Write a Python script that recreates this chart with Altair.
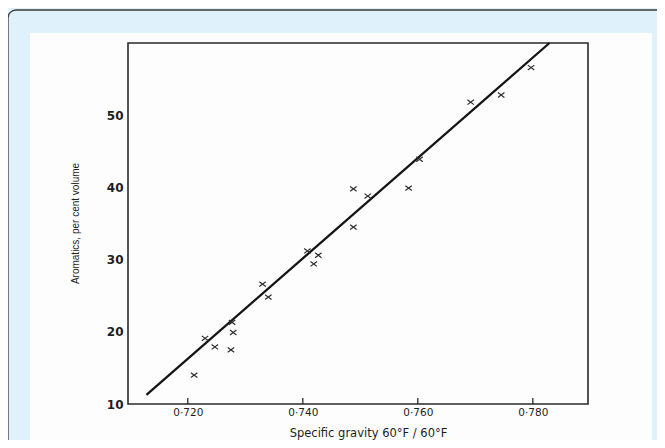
import altair as alt
import pandas as pd

# Observed data (specific gravity vs aromatics)
sg = [0.7211, 0.7230, 0.7247, 0.7275, 0.7279, 0.7277, 0.7330, 0.7340, 0.7408, 0.7427,
      0.7419, 0.7488, 0.7488, 0.7513, 0.7584, 0.7603, 0.7692, 0.7745, 0.7797]
arom = [14.0, 19.1, 17.9, 17.5, 19.9, 21.3, 26.6, 24.8, 31.2, 30.6,
        29.4, 34.5, 39.8, 38.8, 39.9, 43.9, 51.8, 52.8, 56.6]

# Fitted straight line (end points)
fit_x = [0.7128, 0.7829]
fit_y = [11.25, 60.0]

x_ticks = [0.72, 0.74, 0.76, 0.78]
y_ticks = [10, 20, 30, 40, 50]

x_domain = [0.7096, 0.7896]
y_domain = [10, 60]

W, H = 460, 361
INK = "#1e1e1e"

pts = pd.DataFrame({"sg": sg, "arom": arom})
fit = pd.DataFrame({"sg": fit_x, "arom": fit_y})
ticks = pd.DataFrame({"sg": x_ticks})

xscale = alt.Scale(domain=x_domain, nice=False, zero=False)
yscale = alt.Scale(domain=y_domain, nice=False, zero=False)

x_axis = alt.Axis(
    values=x_ticks, grid=False, domain=False, ticks=False, zindex=1,
    labelExpr="replace(format(datum.value, '.3f'), '.', '\u00b7')",
    labelFont="DejaVu Sans", labelFontSize=10.5, labelColor=INK, labelPadding=3,
    title="Specific  gravity  60\u00b0F / 60\u00b0F", titleFont="DejaVu Sans",
    titleFontSize=11.5, titleFontWeight="normal", titleColor=INK,
    titleX=240, titleY=29, titleAlign="center", titleBaseline="middle",
)
y_axis = alt.Axis(
    values=y_ticks, grid=False, domain=False, ticks=False, zindex=1,
    labelFont="DejaVu Sans", labelFontSize=12, labelFontWeight="bold",
    labelColor=INK, labelPadding=5,
    title="Aromatics, per cent volume", titleFont="Liberation Sans",
    titleFontSize=10, titleFontWeight="normal", titleColor=INK,
    titleAngle=-90, titleX=-53, titleY=180, titleAlign="center", titleBaseline="middle",
)

# decorative frame and white panel (page furniture)
frame_df = pd.DataFrame({"k": [0]})
border = alt.Chart(frame_df).mark_rect(
    fillOpacity=0, stroke="#3a3a3a", strokeWidth=1.3, cornerRadius=8
).encode(x=alt.value(-120), x2=alt.value(620), y=alt.value(-33), y2=alt.value(460))
panel = alt.Chart(frame_df).mark_rect(fill="#fdfdfd", strokeWidth=0).encode(
    x=alt.value(-98), x2=alt.value(524), y=alt.value(-10), y2=alt.value(420)
)
box = alt.Chart(frame_df).mark_rect(
    fillOpacity=0, stroke="#2a2a2a", strokeWidth=1.6
).encode(x=alt.value(0), x2=alt.value(W), y=alt.value(0), y2=alt.value(H))

line = alt.Chart(fit).mark_line(color="#151515", strokeWidth=2.3, clip=False).encode(
    x=alt.X("sg:Q", scale=xscale, axis=x_axis),
    y=alt.Y("arom:Q", scale=yscale, axis=y_axis),
)
points = alt.Chart(pts).mark_point(
    shape="M-1,-0.75L1,0.75M-1,0.75L1,-0.75", size=42, filled=False,
    color="#2e2e2e", strokeWidth=1.2, opacity=1
).encode(
    x=alt.X("sg:Q", scale=xscale),
    y=alt.Y("arom:Q", scale=yscale),
)
tick_marks = alt.Chart(ticks).mark_rule(color="#2a2a2a", strokeWidth=1.3).encode(
    x=alt.X("sg:Q", scale=xscale),
    y=alt.value(H), y2=alt.value(H - 6),
)

chart = alt.layer(panel, border, box, line, points, tick_marks).properties(
    width=W, height=H,
    padding={"left": 120, "top": 35, "right": 69, "bottom": 36},
    autosize="none",
    background="#dff1fb",
).configure_view(stroke=None)

chart.save("out.html", embed_options={"renderer": "svg", "actions": False})
